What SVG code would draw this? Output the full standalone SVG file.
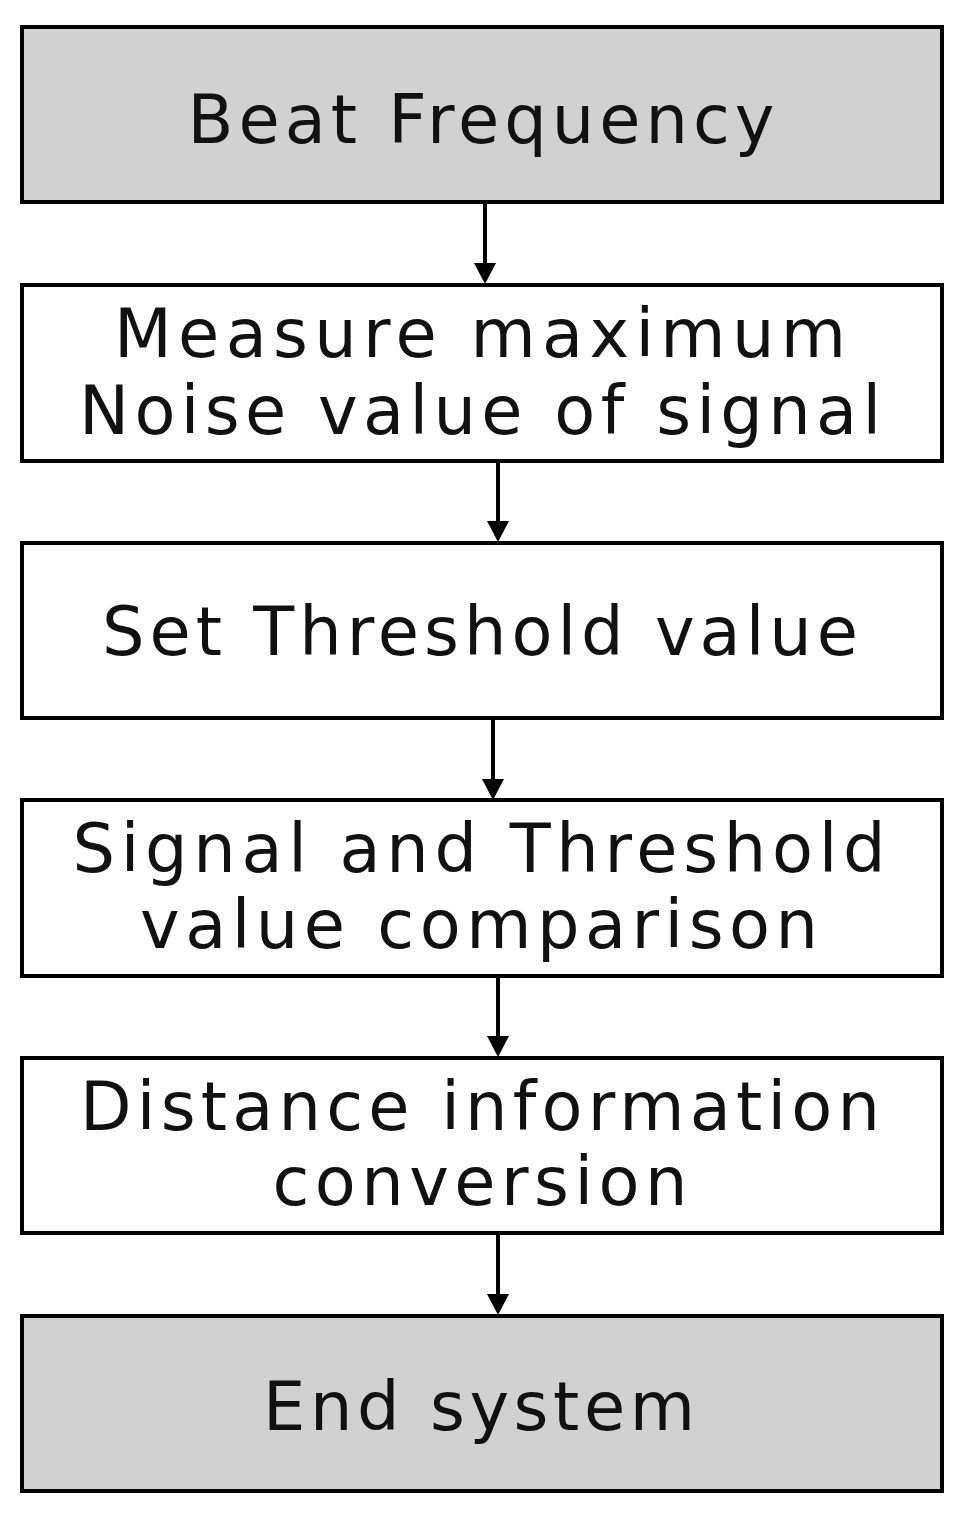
<svg xmlns="http://www.w3.org/2000/svg" width="979" height="1524" viewBox="0 0 979 1524">
<defs>
<style>
.box{stroke:#000;stroke-width:4;fill:#fff}
.grey{fill:#d1d1d1}
.t{font-family:"DejaVu Sans","Noto Sans",sans-serif;font-size:67px;fill:#111;text-anchor:middle}
.c{stroke:#000;stroke-width:4;fill:none}
</style>
<path id="ah" d="M-11,0 L11,0 L0,21 Z" fill="#000"/>
</defs>
<rect width="979" height="1524" fill="#fff"/>
<g id="connectors">
<line class="c" x1="485" y1="203" x2="485" y2="263"/><use href="#ah" x="485" y="263"/>
<line class="c" x1="498" y1="462" x2="498" y2="521"/><use href="#ah" x="498" y="521"/>
<line class="c" x1="493" y1="719" x2="493" y2="779"/><use href="#ah" x="493" y="779"/>
<line class="c" x1="498" y1="977" x2="498" y2="1036"/><use href="#ah" x="498" y="1036"/>
<line class="c" x1="498" y1="1234" x2="498" y2="1294"/><use href="#ah" x="498" y="1294"/>
</g>
<g id="n1"><rect class="box grey" x="22" y="27" width="920" height="175"/><text class="t" x="481" y="143" textLength="587" lengthAdjust="spacing">Beat Frequency</text></g>
<g id="n2"><rect class="box" x="22" y="285" width="920" height="176"/><text class="t" x="480" y="357" textLength="732" lengthAdjust="spacing">Measure maximum</text><text class="t" x="480" y="434" textLength="802" lengthAdjust="spacing">Noise value of signal</text></g>
<g id="n3"><rect class="box" x="22" y="543" width="920" height="175"/><text class="t" x="480" y="655" textLength="756" lengthAdjust="spacing">Set Threshold value</text></g>
<g id="n4"><rect class="box" x="22" y="800" width="920" height="176"/><text class="t" x="479" y="872" textLength="813" lengthAdjust="spacing">Signal and Threshold</text><text class="t" x="479" y="948" textLength="678" lengthAdjust="spacing">value comparison</text></g>
<g id="n5"><rect class="box" x="22" y="1058" width="920" height="175"/><text class="t" x="480" y="1130" textLength="800" lengthAdjust="spacing">Distance information</text><text class="t" x="480" y="1205" textLength="415" lengthAdjust="spacing">conversion</text></g>
<g id="n6"><rect class="box grey" x="22" y="1316" width="920" height="175"/><text class="t" x="479" y="1430" textLength="432" lengthAdjust="spacing">End system</text></g>
</svg>
